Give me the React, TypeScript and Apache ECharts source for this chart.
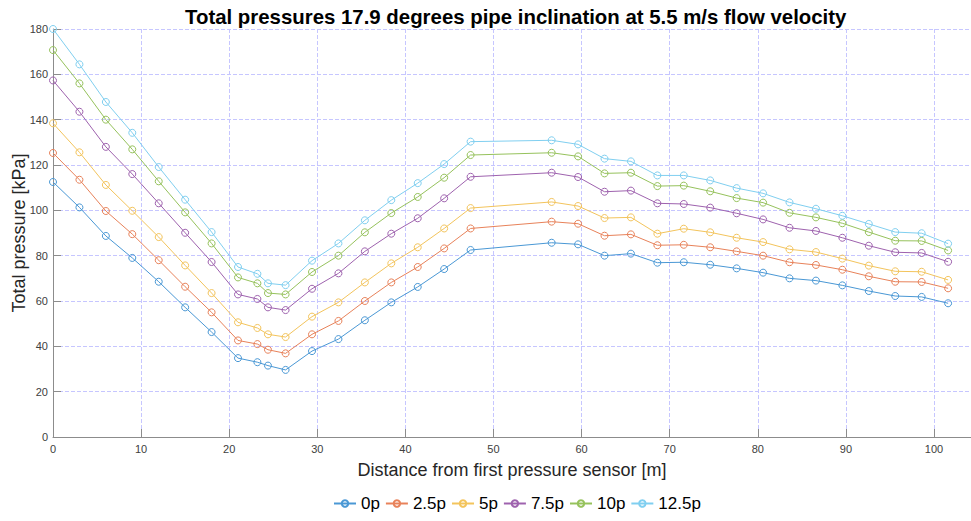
import React, { useEffect, useRef } from "react";
import * as echarts from "echarts";

const distance = [0, 3, 6, 9, 12, 15, 18, 21, 23.2, 24.4, 26.4, 29.4, 32.4, 35.4, 38.4, 41.4, 44.4, 47.4, 56.6, 59.6, 62.6, 65.6, 68.6, 71.6, 74.6, 77.6, 80.6, 83.6, 86.6, 89.6, 92.6, 95.6, 98.6, 101.6];

const p0 = [112.5, 101.3, 88.7, 79, 68.5, 57.2, 46.3, 34.8, 33, 31.5, 29.6, 37.9, 43.2, 51.5, 59.4, 66.2, 74.1, 82.5, 85.7, 85, 80, 80.9, 76.9, 77.1, 76, 74.4, 72.5, 70, 69, 66.9, 64.4, 62.2, 61.8, 59];
const p25 = [125.3, 113.5, 99.7, 89.5, 78, 66.3, 55, 42.6, 41, 38.5, 36.9, 45.3, 51.2, 60, 68.2, 75, 83.2, 92, 95, 94.1, 88.8, 89.4, 84.6, 84.8, 83.7, 81.9, 80, 77.1, 75.9, 73.8, 70.9, 68.5, 68.4, 65.6];
const p5 = [138.4, 125.6, 111.2, 99.8, 88.2, 75.7, 63.5, 50.6, 48.1, 45.3, 44.1, 53.1, 59.4, 68.2, 76.6, 83.7, 92, 101, 103.7, 101.9, 96.6, 96.9, 89.7, 91.9, 90.3, 87.9, 86, 82.8, 81.6, 78.7, 75.6, 73.1, 72.9, 69.3];
const p75 = [157.3, 143.5, 128, 116, 103.1, 90.1, 77.2, 62.9, 60.9, 57.2, 56, 65.4, 72.2, 81.9, 89.7, 96.5, 105.3, 114.8, 116.6, 114.7, 108.2, 108.7, 103.1, 102.8, 101.2, 98.7, 96, 92.3, 90.9, 87.9, 84.4, 81.5, 81.2, 77.3];
const p10 = [170.7, 156, 140, 126.9, 112.8, 99.1, 85.4, 70.4, 67.8, 63.5, 62.9, 72.8, 80, 90.3, 98.8, 105.9, 114.4, 124.4, 125.4, 123.8, 116.3, 116.6, 110.7, 110.9, 108.4, 105.4, 103.4, 98.9, 96.9, 94.3, 90.4, 86.6, 86.5, 82.3];
const p125 = [180, 164.4, 147.8, 134.2, 119.1, 104.7, 90.4, 75, 72, 67.8, 67, 77.8, 85.4, 95.6, 104.5, 112, 120.4, 130.3, 130.9, 129.1, 122.8, 121.6, 115.4, 115.4, 113.2, 109.8, 107.5, 103.5, 100.7, 97.6, 94, 90.4, 89.9, 85.3];

const seriesNames = ["0p", "2.5p", "5p", "7.5p", "10p", "12.5p"];
const seriesValues = [p0, p25, p5, p75, p10, p125];
const seriesColors = ["#4a98d5", "#e8825a", "#f3c45c", "#9e62ae", "#96c25c", "#80cff0"];

const titleText = "Total pressures 17.9 degrees pipe inclination at 5.5 m/s flow velocity";
const xName = "Distance from first pressure sensor [m]";
const yName = "Total pressure [kPa]";

export default function App() {
  const ref = useRef<HTMLDivElement>(null);
  useEffect(() => {
    if (!ref.current) return;
    const chart = echarts.init(ref.current, undefined, { renderer: "svg" });
    const font = "Liberation Sans, Arial, Helvetica, sans-serif";
    const gridLine = { color: "#c6c6ff", type: "dashed", width: 1, dashOffset: 0 };
    chart.setOption({
      animation: false,
      backgroundColor: "#ffffff",
      textStyle: { fontFamily: font },
      title: {
        text: titleText,
        left: 180,
        top: 2,
        textStyle: { fontSize: 20.4, fontWeight: "bold", color: "#000", fontFamily: font },
      },
      legend: {
        bottom: 4,
        left: 328,
        itemWidth: 22,
        itemHeight: 8,
        itemGap: 5,
        textStyle: { fontSize: 17, color: "#000", fontFamily: font },
        data: seriesNames,
      },
      grid: { left: 53, right: 0, top: 29, bottom: 84, containLabel: false, outerBoundsMode: "none" },
      xAxis: {
        type: "value",
        min: 0,
        max: 104.2,
        interval: 10,
        name: xName,
        nameLocation: "middle",
        nameGap: 24,
        nameTextStyle: { fontSize: 18, color: "#262626", fontFamily: font },
        axisLine: { show: true, lineStyle: { color: "#8c8c8c", width: 1 } },
        axisTick: { show: true, inside: true, length: 8, lineStyle: { color: "#8c8c8c" } },
        axisLabel: {
          fontSize: 11,
          color: "#404040",
          margin: 6,
          formatter: (v: number) => (Math.abs(v % 10) < 1e-6 ? String(v) : ""),
        },
        splitLine: { show: true, lineStyle: { ...gridLine } },
      },
      yAxis: {
        type: "value",
        min: 0,
        max: 180,
        interval: 20,
        name: yName,
        nameLocation: "middle",
        nameGap: 25,
        nameMoveOverlap: false,
        nameTextStyle: { fontSize: 18, color: "#262626", fontFamily: font },
        axisLine: { show: true, lineStyle: { color: "#8c8c8c", width: 1 } },
        axisTick: { show: true, inside: true, length: 8, lineStyle: { color: "#8c8c8c" } },
        axisLabel: { fontSize: 11, color: "#404040", margin: 5 },
        splitLine: { show: true, lineStyle: { ...gridLine } },
      },
      series: seriesNames.map((name, i) => ({
        name,
        type: "line",
        data: distance.map((d, j) => [d, seriesValues[i][j]]),
        symbol: "circle",
        symbolSize: 7,
        clip: false,
        color: seriesColors[i],
        lineStyle: { width: 1, color: seriesColors[i], type: "solid" },
        itemStyle: { color: "rgba(255,255,255,0)", borderColor: seriesColors[i], borderWidth: 1 },
        emphasis: { disabled: true },
      })),
    });
    return () => chart.dispose();
  }, []);
  return (
    <div
      ref={ref}
      style={{ position: "absolute", left: 0, top: 0, width: 971, height: 521 }}
    />
  );
}
